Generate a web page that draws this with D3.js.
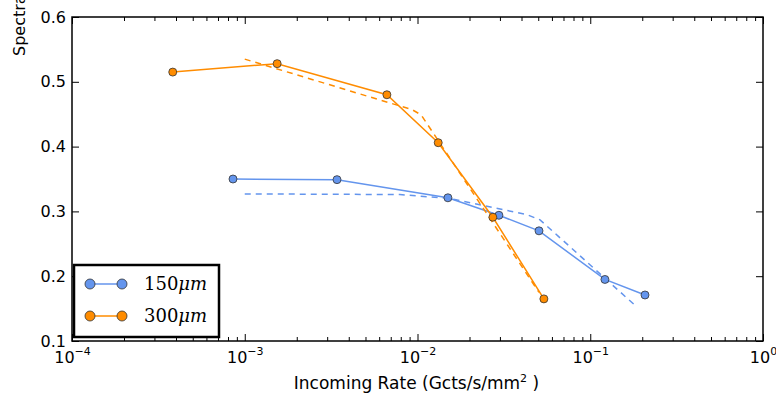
<!DOCTYPE html>
<html>
<head>
<meta charset="utf-8">
<script src="https://cdn.jsdelivr.net/npm/d3@7"></script>
<style>
    body { margin: 0; background: #fff; }
    .tick text { font-family: "DejaVu Sans", sans-serif; font-size: 16px; fill: #000; }
    .tick line { stroke: #000; stroke-width: 1; }
    .domain { display: none; }
</style>
</head>
<body>
<div id="chart"></div>
<script>

// measured points, 150um sensor
var rate150 = [8.55e-4, 3.42e-3, 0.0150, 0.0296, 0.0505, 0.1216, 0.2075];
var res150 = [0.350, 0.349, 0.321, 0.294, 0.270, 0.195, 0.171];

// measured points, 300um sensor
var rate300 = [3.83e-4, 1.54e-3, 6.65e-3, 0.01318, 0.0273, 0.0539];
var res300 = [0.515, 0.528, 0.480, 0.406, 0.291, 0.165];

// dashed model curves
var fitRate150 = [1e-3, 7.9e-3, 0.0154, 0.043, 0.0512, 0.187];
var fitRes150 = [0.327, 0.326, 0.320, 0.295, 0.287, 0.152];
var fitRate300 = [1e-3, 9.3e-3, 0.0105, 0.0505];
var fitRes300 = [0.535, 0.457, 0.449, 0.175];

var xMajor = [1e-4, 1e-3, 1e-2, 1e-1, 1];
var xExp = ["\u22124", "\u22123", "\u22122", "\u22121", "0"];
var yTicks = [0.1, 0.2, 0.3, 0.4, 0.5, 0.6];
var seriesNames = ["150", "300"];
var seriesColors = ["#6495ED", "#FF8C00"];

function show_chart(div_id_chart) {

    var margin = {top: 17, right: 13, bottom: 55, left: 72},
        width = 776 - margin.left - margin.right,
        height = 396 - margin.top - margin.bottom;

    var svg = d3.select("#" + div_id_chart).append("svg")
            .attr("width", 776)
            .attr("height", 396),
        g = svg.append("g")
            .attr("transform", "translate(" + margin.left + "," + margin.top + ")");

    var x = d3.scaleLog().domain([1e-4, 1]).range([0, width]);
    var y = d3.scaleLinear().domain([0.1, 0.6]).range([height, 0]);

    // minor ticks on the log axis
    var xMinor = [];
    for (var d = -4; d < 0; d++) {
        for (var m = 2; m <= 9; m++) {
            xMinor.push(m * Math.pow(10, d));
        }
    }

    g.append("g").attr("transform", "translate(0," + height + ")")
        .call(d3.axisBottom(x).tickValues(xMinor).tickSize(-4).tickSizeOuter(0).tickFormat(""));
    g.append("g")
        .call(d3.axisTop(x).tickValues(xMinor).tickSize(-4).tickSizeOuter(0).tickFormat(""));

    var xAxis = g.append("g").attr("transform", "translate(0," + height + ")")
        .call(d3.axisBottom(x).tickValues(xMajor).tickSize(-7).tickSizeOuter(0).tickFormat(""));
    g.append("g")
        .call(d3.axisTop(x).tickValues(xMajor).tickSize(-7).tickSizeOuter(0).tickFormat(""));

    // labels like 10^-3
    xAxis.selectAll(".tick").each(function(v, i) {
        var t = d3.select(this).append("text")
            .attr("y", 22)
            .style("text-anchor", "middle");
        t.append("tspan").text("10");
        t.append("tspan").attr("dy", -8).style("font-size", "11px").text(xExp[i]);
    });

    g.append("g")
        .call(d3.axisLeft(y).tickValues(yTicks).tickSize(-7).tickSizeOuter(0).tickPadding(6)
            .tickFormat(d3.format(".1f")));
    g.append("g").attr("transform", "translate(" + width + ",0)")
        .call(d3.axisRight(y).tickValues(yTicks).tickSize(-7).tickSizeOuter(0).tickFormat(""));

    var line = d3.line()
        .x(function(d) { return x(d[0]); })
        .y(function(d) { return y(d[1]); });

    var measured = [d3.zip(rate150, res150), d3.zip(rate300, res300)];
    var fits = [d3.zip(fitRate150, fitRes150), d3.zip(fitRate300, fitRes300)];

    for (var i = 0; i < 2; i++) {
        g.append("path")
            .attr("d", line(measured[i]))
            .style("fill", "none")
            .style("stroke", seriesColors[i])
            .style("stroke-width", 1.5);

        g.append("path")
            .attr("d", line(fits[i]))
            .style("fill", "none")
            .style("stroke", seriesColors[i])
            .style("stroke-width", 1.5)
            .style("stroke-dasharray", "6,5");

        g.selectAll(".pt" + i)
            .data(measured[i])
            .enter().append("circle")
            .attr("class", "pt" + i)
            .attr("cx", function(d) { return x(d[0]); })
            .attr("cy", function(d) { return y(d[1]); })
            .attr("r", 4)
            .style("fill", seriesColors[i])
            .style("stroke", "#333")
            .style("stroke-width", 0.8);
    }

    // frame
    g.append("rect")
        .attr("width", width)
        .attr("height", height)
        .style("fill", "none")
        .style("stroke", "#000")
        .style("stroke-width", 1.5);

    // legend
    var legend = g.append("g").attr("transform", "translate(2," + (height - 76) + ")");
    legend.append("rect")
        .attr("width", 145)
        .attr("height", 72)
        .style("fill", "#fff")
        .style("stroke", "#000")
        .style("stroke-width", 2.5);

    seriesNames.forEach(function(name, i) {
        var ly = 19 + i * 32;
        legend.append("line")
            .attr("x1", 16).attr("x2", 48)
            .attr("y1", ly).attr("y2", ly)
            .style("stroke", seriesColors[i])
            .style("stroke-width", 1.5);
        [16, 48].forEach(function(cx) {
            legend.append("circle")
                .attr("cx", cx).attr("cy", ly).attr("r", 5)
                .style("fill", seriesColors[i])
                .style("stroke", "#333")
                .style("stroke-width", 0.8);
        });
        var t = legend.append("text")
            .attr("x", 70)
            .attr("y", ly + 6)
            .style("font-family", "'DejaVu Serif', serif")
            .style("font-size", "18px");
        t.append("tspan").text(name);
        t.append("tspan").style("font-style", "italic").text("\u03bcm");
    });

    // axis labels
    var xl = svg.append("text")
        .attr("x", margin.left + width / 2 - 1)
        .attr("y", 389)
        .style("text-anchor", "middle")
        .style("font-family", "'DejaVu Sans', sans-serif")
        .style("font-size", "17px");
    xl.append("tspan").text("Incoming Rate (Gcts/s/mm");
    xl.append("tspan").attr("dy", -7).style("font-size", "11px").text("2");
    xl.append("tspan").attr("dy", 7).text(" )");

    // y label runs past the top edge, as in the source figure
    svg.append("text")
        .attr("transform", "translate(25,56) rotate(-90)")
        .style("text-anchor", "start")
        .style("font-family", "'DejaVu Sans', sans-serif")
        .style("font-size", "16px")
        .text("Spectral Resolution");
}

show_chart("chart");

</script>
</body>
</html>
